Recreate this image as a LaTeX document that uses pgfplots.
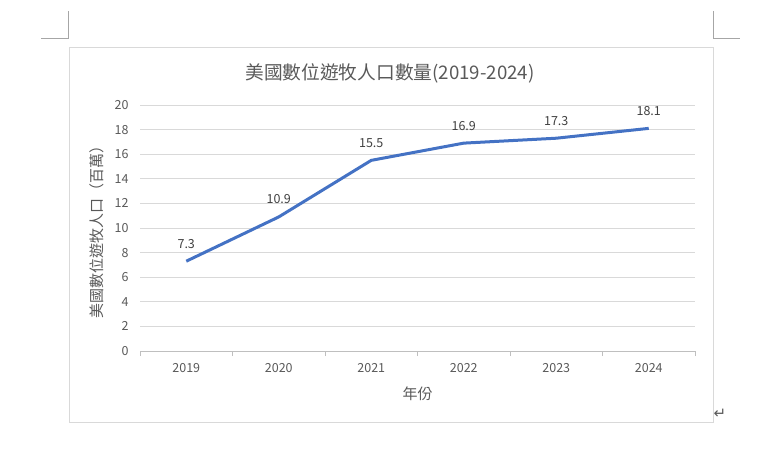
\documentclass[border=0pt]{standalone}
\usepackage{fontspec}
\usepackage{pgfplots}
\pgfplotsset{compat=1.18}
\setmainfont{Noto Sans CJK TC}
\newfontfamily\cjk{Noto Sans CJK TC}
\newfontfamily\dejavu{DejaVu Sans}
\definecolor{linec}{HTML}{4472C4}
\definecolor{gridc}{HTML}{D9D9D9}
\definecolor{axisc}{HTML}{BFBFBF}
\definecolor{txtc}{HTML}{595959}
\definecolor{lblc}{HTML}{404040}
\definecolor{framec}{HTML}{D9D9D9}
\definecolor{markc}{HTML}{A6A6A6}
\begin{document}
\begin{tikzpicture}[x=1pt,y=1pt]
\path[use as bounding box] (0,0) rectangle (770,456);
% page corner marks (y = 456 - pixel row)
\draw[markc,line width=0.8pt] (41,418) -- (68,418) -- (68,445);
\draw[markc,line width=0.8pt] (713,445) -- (713,418) -- (740,418);
% chart frame
\draw[framec,line width=0.9pt] (69,34) rectangle (713,409);
% return mark
\node[text=txtc,font=\dejavu\fontsize{15}{15}\selectfont,inner sep=0pt] at (720,42) {↵};
% title
\node[text=txtc,font=\cjk\fontsize{18.7}{20}\selectfont,inner sep=0pt] at (390,383) {美國數位遊牧人口數量(2019-2024)};
\begin{axis}[
  at={(140pt,105pt)}, anchor=south west,
  width=555pt, height=246pt, scale only axis,
  xmin=-0.5, xmax=5.5, ymin=0, ymax=20,
  xtick={0,1,2,3,4,5},
  xticklabels={2019,2020,2021,2022,2023,2024},
  minor xtick={-0.5,0.5,1.5,2.5,3.5,4.5,5.5},
  ytick={0,2,...,20},
  tick pos=left,
  major tick length=0pt,
  minor tick length=5pt,
  tick align=outside,
  minor tick style={axisc, line width=0.8pt},
  ymajorgrids, grid style={gridc, line width=0.8pt},
  axis line style={draw=none},
  tick label style={text=txtc, font=\fontsize{12.5}{12.5}\selectfont},
  /pgf/number format/assume math mode=true,
  xticklabel style={yshift=-9pt},
  yticklabel style={xshift=-8pt},
  ylabel={美國數位遊牧人口（百萬）},
  xlabel={年份},
  label style={text=txtc, font=\cjk\fontsize{15}{15}\selectfont},
  ylabel style={at={(axis description cs:-0.0775,0.5)}, anchor=center, rotate=0},
  xlabel style={at={(axis description cs:0.5,0)}, anchor=north, yshift=-32pt},
  nodes near coords,
  nodes near coords style={text=lblc, font=\fontsize{12.5}{12.5}\selectfont, anchor=south, yshift=8pt},
  point meta=explicit symbolic,
  clip=false,
]
\draw[axisc, line width=0.8pt] (axis cs:-0.5,0) -- (axis cs:5.5,0);
\addplot[linec, line width=3pt, line join=round] coordinates {
(0,7.3) [7.3]
(1,10.9) [10.9]
(2,15.5) [15.5]
(3,16.9) [16.9]
(4,17.3) [17.3]
(5,18.1) [18.1]
};
\end{axis}
\end{tikzpicture}
\end{document}
